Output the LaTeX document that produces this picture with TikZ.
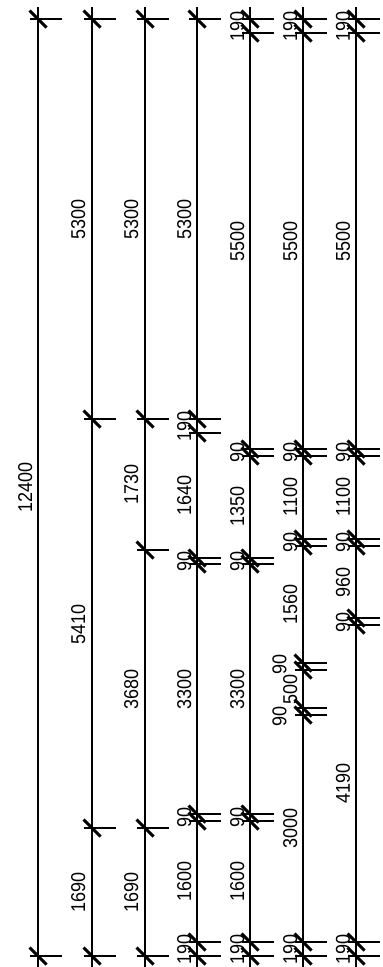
\documentclass[tikz,border=0pt]{standalone}
\usepackage{fontspec}
\setmainfont{Liberation Sans}
\tikzstyle{axisStyle}=[draw, line width = 1.5pt]
\tikzstyle{stemStyle}=[draw, line width = 1.3pt]
\tikzstyle{slashStyle}=[draw, line width = 3pt]
\tikzstyle{dimStyle}=[rotate = 90, xscale = 0.9, inner sep = 0pt, font = \fontsize{20}{20}\selectfont]
\newcommand{\Tick}[3]{%
\coordinate (#1) at (#2,#3);
\coordinate (#1s) at ([xshift=-8]#1);
\coordinate (#1e) at ([xshift=24]#1);
\coordinate (#1u) at ([shift={(-8.5,-8.5)}]#1);
\coordinate (#1d) at ([shift={(8.5,8.5)}]#1);
\draw[stemStyle] (#1s) -- (#1e);
\draw[slashStyle] (#1u) -- (#1d);
}
\begin{document}
\begin{tikzpicture}[x = 1pt, y = -1pt]
\useasboundingbox (0,0) rectangle (383,967);
% axes
\coordinate (a1t) at (38,7);
\coordinate (a1b) at (38,967);
\coordinate (a2t) at (92,7);
\coordinate (a2b) at (92,967);
\coordinate (a3t) at (145,7);
\coordinate (a3b) at (145,967);
\coordinate (a4t) at (197,7);
\coordinate (a4b) at (197,967);
\coordinate (a5t) at (250,7);
\coordinate (a5b) at (250,967);
\coordinate (a6t) at (303,7);
\coordinate (a6b) at (303,967);
\coordinate (a7t) at (356,7);
\coordinate (a7b) at (356,967);
\draw[axisStyle] (a1t) -- (a1b);
\draw[axisStyle] (a2t) -- (a2b);
\draw[axisStyle] (a3t) -- (a3b);
\draw[axisStyle] (a4t) -- (a4b);
\draw[axisStyle] (a5t) -- (a5b);
\draw[axisStyle] (a6t) -- (a6b);
\draw[axisStyle] (a7t) -- (a7b);
% ticks
\Tick{t1a}{38}{19}
\Tick{t1b}{38}{956}
\Tick{t2a}{92}{19}
\Tick{t2b}{92}{419}
\Tick{t2c}{92}{828}
\Tick{t2d}{92}{956}
\Tick{t3a}{145}{19}
\Tick{t3b}{145}{419}
\Tick{t3c}{145}{550}
\Tick{t3d}{145}{828}
\Tick{t3e}{145}{956}
\Tick{t4a}{197}{19}
\Tick{t4b}{197}{419}
\Tick{t4c}{197}{433}
\Tick{t4d}{197}{558}
\Tick{t4e}{197}{564}
\Tick{t4f}{197}{814}
\Tick{t4g}{197}{821}
\Tick{t4h}{197}{942}
\Tick{t4i}{197}{956}
\Tick{t5a}{250}{19}
\Tick{t5b}{250}{33}
\Tick{t5c}{250}{449}
\Tick{t5d}{250}{456}
\Tick{t5e}{250}{558}
\Tick{t5f}{250}{564}
\Tick{t5g}{250}{814}
\Tick{t5h}{250}{821}
\Tick{t5i}{250}{942}
\Tick{t5j}{250}{956}
\Tick{t6a}{303}{19}
\Tick{t6b}{303}{33}
\Tick{t6c}{303}{449}
\Tick{t6d}{303}{456}
\Tick{t6e}{303}{539}
\Tick{t6f}{303}{546}
\Tick{t6g}{303}{663}
\Tick{t6h}{303}{670}
\Tick{t6i}{303}{708}
\Tick{t6j}{303}{715}
\Tick{t6k}{303}{942}
\Tick{t6l}{303}{956}
\Tick{t7a}{356}{19}
\Tick{t7b}{356}{33}
\Tick{t7c}{356}{449}
\Tick{t7d}{356}{456}
\Tick{t7e}{356}{539}
\Tick{t7f}{356}{546}
\Tick{t7g}{356}{618}
\Tick{t7h}{356}{625}
\Tick{t7i}{356}{942}
\Tick{t7j}{356}{956}
% dimensions
\node[dimStyle] (d1a) at (25.3,487) {12400};
\node[dimStyle] (d2a) at (78.3,219) {5300};
\node[dimStyle] (d2b) at (78.3,624) {5410};
\node[dimStyle] (d2c) at (78.3,892) {1690};
\node[dimStyle] (d3a) at (131.3,219) {5300};
\node[dimStyle] (d3b) at (131.3,484) {1730};
\node[dimStyle] (d3c) at (131.3,689) {3680};
\node[dimStyle] (d3d) at (131.3,892) {1690};
\node[dimStyle] (d4a) at (184.3,219) {5300};
\node[dimStyle] (d4b) at (184.3,426) {190};
\node[dimStyle] (d4c) at (184.3,495.5) {1640};
\node[dimStyle] (d4d) at (184.3,561) {90};
\node[dimStyle] (d4e) at (184.3,689) {3300};
\node[dimStyle] (d4f) at (184.3,817) {90};
\node[dimStyle] (d4g) at (184.3,881) {1600};
\node[dimStyle] (d4h) at (184.3,949) {190};
\node[dimStyle] (d5a) at (237.3,26) {190};
\node[dimStyle] (d5b) at (237.3,241) {5500};
\node[dimStyle] (d5c) at (237.3,452) {90};
\node[dimStyle] (d5d) at (237.3,506.7) {1350};
\node[dimStyle] (d5e) at (237.3,561) {90};
\node[dimStyle] (d5f) at (237.3,689) {3300};
\node[dimStyle] (d5g) at (237.3,817) {90};
\node[dimStyle] (d5h) at (237.3,881) {1600};
\node[dimStyle] (d5i) at (237.3,949) {190};
\node[dimStyle] (d6a) at (290.3,26) {190};
\node[dimStyle] (d6b) at (290.3,241) {5500};
\node[dimStyle] (d6c) at (290.3,452) {90};
\node[dimStyle] (d6d) at (290.3,497) {1100};
\node[dimStyle] (d6e) at (290.3,542) {90};
\node[dimStyle] (d6f) at (290.3,604) {1560};
\node[dimStyle] (d6g) at (279.5,664) {90};
\node[dimStyle] (d6h) at (290.3,689) {500};
\node[dimStyle] (d6i) at (279.5,716) {90};
\node[dimStyle] (d6j) at (290.3,828) {3000};
\node[dimStyle] (d6k) at (290.3,949) {190};
\node[dimStyle] (d7a) at (343,26) {190};
\node[dimStyle] (d7b) at (343,241) {5500};
\node[dimStyle] (d7c) at (343,452) {90};
\node[dimStyle] (d7d) at (343,497) {1100};
\node[dimStyle] (d7e) at (343,542) {90};
\node[dimStyle] (d7f) at (343,582) {960};
\node[dimStyle] (d7g) at (343,622) {90};
\node[dimStyle] (d7h) at (343,783) {4190};
\node[dimStyle] (d7i) at (343,949) {190};
\end{tikzpicture}
\end{document}
